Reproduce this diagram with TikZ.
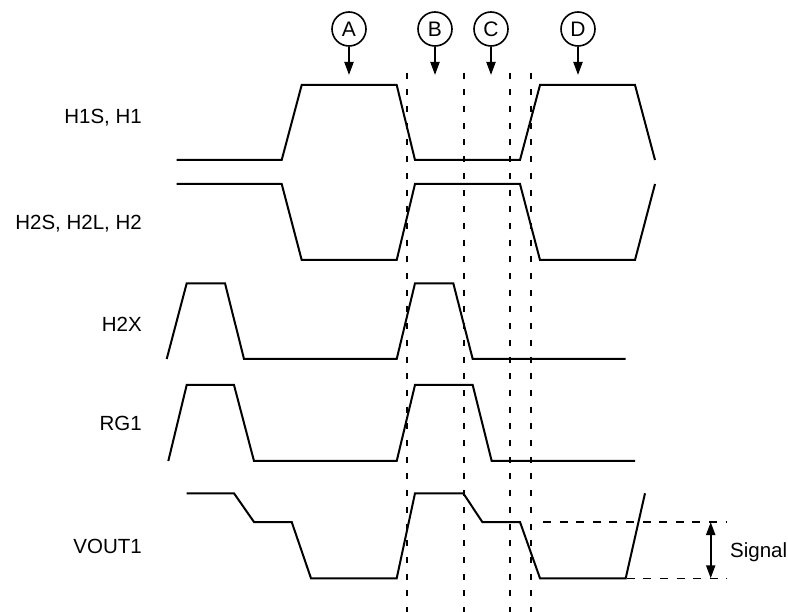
\documentclass[tikz,border=0pt]{standalone}
\usepackage{fontspec}
\setmainfont{Liberation Sans}
\usetikzlibrary{arrows.meta}
\tikzset{
  wave/.style={line width=2pt, line join=miter},
  guide/.style={line width=2pt, dash pattern=on 6pt off 10.7pt},
  sigdash/.style={line width=1.6pt, dash pattern=on 8pt off 8.6pt},
  marker/.style={circle, draw, line width=1.6pt, minimum size=34pt, inner sep=0pt, font=\fontsize{21}{24}\selectfont},
  pointer/.style={line width=2pt, -{Triangle[length=13pt,width=9pt]}},
  siglabel/.style={inner sep=0pt, anchor=base east, font=\fontsize{20.5}{24}\selectfont},
}
\begin{document}
\begin{tikzpicture}[x=1pt,y=-1pt]
\useasboundingbox (0,0) rectangle (788,612);
% labels
\node[siglabel] (lh1) at (142,124) {H1S, H1};
\node[siglabel] (lh2) at (142,229.3) {H2S, H2L, H2};
\node[siglabel] (lh2x) at (142,331.7) {H2X};
\node[siglabel] (lrg) at (142,430.7) {RG1};
\node[siglabel] (lvout) at (142,554) {VOUT1};
% markers
\node[marker] (mA) at (349,29) {A};
\node[marker] (mB) at (435,29) {B};
\node[marker] (mC) at (491,29) {C};
\node[marker] (mD) at (578,29) {D};
\coordinate (tA) at (349,75);
\coordinate (tB) at (435,75);
\coordinate (tC) at (491,75);
\coordinate (tD) at (578,75);
\draw[pointer] (mA.south) -- (tA);
\draw[pointer] (mB.south) -- (tB);
\draw[pointer] (mC.south) -- (tC);
\draw[pointer] (mD.south) -- (tD);
% guides
\foreach \gx in {406.5,464,510,530.5}
  \draw[guide] (\gx,72.7) -- (\gx,612);
% H1
\draw[wave] (176.7,160) -- (281.7,160) -- (301.7,85) -- (396.7,85) -- (415,160) -- (520,160) -- (540,85) -- (635,85) -- (655,160);
% H2
\draw[wave] (176.7,184) -- (281.7,184) -- (301.7,260) -- (396.7,260) -- (415,184) -- (520,184) -- (540,260) -- (635,260) -- (655,184);
% H2X
\draw[wave] (166.7,359) -- (186.7,283.3) -- (225,283.3) -- (244,359) -- (396.7,359) -- (415,283.3) -- (453.3,283.3) -- (472.7,359) -- (625.7,359);
% RG1
\draw[wave] (168.3,461) -- (186.7,385) -- (234,385) -- (254,461) -- (396.7,461) -- (415,385) -- (472.7,385) -- (491.7,461) -- (635,461);
% VOUT1
\draw[wave] (186.7,493.3) -- (234,493.3) -- (254,522) -- (291.7,522) -- (311,578.3) -- (396.7,578.3) -- (415,493.3) -- (463.3,493.3) -- (482.3,522) -- (520,522) -- (540,578.3) -- (625.7,578.3) -- (645,493.3);
% signal
\draw[sigdash] (543,522) -- (726.7,522);
\draw[sigdash] (626.7,578.3) -- (726.7,578.3);
\coordinate (sTop) at (710.7,522);
\coordinate (sBot) at (710.7,578.3);
\draw[line width=2pt, {Triangle[length=13pt,width=9pt]}-{Triangle[length=13pt,width=9pt]}] (sTop) -- (sBot);
\node[inner sep=0pt, anchor=base west, font=\fontsize{20.5}{24}\selectfont] (sig) at (730,558) {Signal};
\end{tikzpicture}
\end{document}
